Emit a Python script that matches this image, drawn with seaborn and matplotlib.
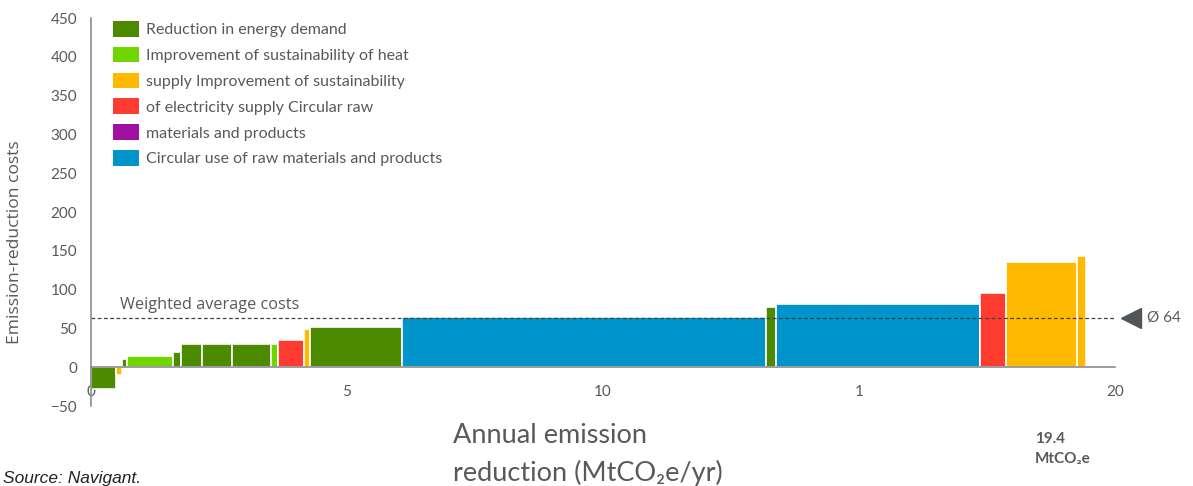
import numpy as np
import pandas as pd
import matplotlib
matplotlib.use("Agg")
import matplotlib.pyplot as plt
from matplotlib.patches import Patch
import seaborn as sns

# Measure categories and their colours
categories = [
    "Reduction in energy demand",
    "Improvement of sustainability of heat",
    "supply Improvement of sustainability",
    "of electricity supply Circular raw",
    "materials and products",
    "Circular use of raw materials and products",
]
category_colors = ["#4C8A00", "#6FD600", "#FFB900", "#FF3A2E", "#A0119F", "#0094CB"]

# Individual measures, sorted by cost (MAC curve)
measure_group = [0, 2, 0, 1, 0, 0, 0, 0, 1, 3, 2, 0, 5, 0, 5, 3, 2, 2]
measure_volume = [0.49, 0.11, 0.11, 0.90, 0.15, 0.40, 0.60, 0.76, 0.14,
                  0.50, 0.11, 1.80, 7.11, 0.19, 4.00, 0.50, 1.39, 0.17]
measure_cost = [-28, -10, 10, 15, 19, 30, 30, 30, 30,
                35, 49, 52, 65, 78, 82, 95, 135, 143]

x_ticks = [0, 5, 10, 15, 20]
x_tick_labels = ["0", "5", "10", "1", "20"]
y_ticks = [-50, 0, 50, 100, 150, 200, 250, 300, 350, 400, 450]

GREY_TEXT = "#595959"
GREY_AXIS = "#8C8C8C"

sns.set_style("white")
plt.rcParams["font.family"] = ["Lato", "DejaVu Sans"]

volume = np.array(measure_volume)
cost = np.array(measure_cost, dtype=float)
edges = np.concatenate([[0.0], np.cumsum(volume)])
df = pd.DataFrame({
    "mid": edges[:-1] + volume / 2,
    "cost": cost,
    "group": [categories[g] for g in measure_group],
})
total = volume.sum()
avg_cost = float((volume * cost).sum() / total)

fig = plt.figure(figsize=(11.93, 4.86), dpi=100)
ax = fig.add_axes([91 / 1193, 80 / 486, 1024 / 1193, 388 / 486])

# Variable-width bars: one bin per measure, height = cost
sns.histplot(data=df, x="mid", weights="cost", bins=edges.tolist(), ax=ax,
             color=category_colors[0], alpha=1, edgecolor="white",
             linewidth=1.2, legend=False, zorder=2)
for patch, g in zip(ax.patches, measure_group):
    patch.set_facecolor(category_colors[g])

ax.set_xlim(0, 20)
ax.set_ylim(-50, 450)
ax.set_xlabel("")
ax.set_ylabel("")

for side in ["top", "right"]:
    ax.spines[side].set_visible(False)
ax.spines["bottom"].set_position(("data", 0))
for side in ["left", "bottom"]:
    ax.spines[side].set_color(GREY_AXIS)
    ax.spines[side].set_linewidth(1.2)
    ax.spines[side].set_zorder(4)

ax.set_xticks(x_ticks)
ax.set_xticklabels(x_tick_labels)
ax.set_yticks(y_ticks)
ax.tick_params(axis="both", direction="out", length=6, width=1.2,
               color=GREY_AXIS, labelcolor=GREY_TEXT, labelsize=11)
ax.tick_params(axis="x", pad=6.5)
ax.tick_params(axis="y", pad=4)

# Weighted average line and marker
ax.axhline(avg_cost, color="#404040", lw=0.9, ls=(0, (3, 2)), zorder=3)
ax.text(0.57, avg_cost + 6, "Weighted average costs", family=["Open Sans", "DejaVu Sans"],
        fontsize=11.7, color=GREY_TEXT, va="bottom", ha="left")
ax.plot([20.32], [avg_cost], marker="<", ms=14, color="#50555A", clip_on=False)
ax.text(20.62, avg_cost, f"Ø {avg_cost:.0f}", fontsize=11, color=GREY_TEXT,
        va="center", ha="left")

# Legend
handles = [Patch(facecolor=c, edgecolor="none") for c in category_colors]
fig.legend(handles, categories, loc="upper left",
           bbox_to_anchor=(113 / 1193, 1 - 21 / 486), bbox_transform=fig.transFigure,
           frameon=False, fontsize=11.5, handlelength=1.63, handleheight=1.13,
           labelspacing=0.6, handletextpad=0.44, borderpad=0, borderaxespad=0,
           labelcolor=GREY_TEXT)

# Axis titles and notes
fig.text(15 / 1193, 1 - 242 / 486, "Emission-reduction costs", rotation=90,
         ha="center", va="center", fontsize=12.6, color=GREY_TEXT,
         family=["Open Sans", "DejaVu Sans"])
fig.text(453 / 1193, 1 - 443 / 486, "Annual emission", fontsize=19.5,
         color=GREY_TEXT, ha="left", va="baseline")
fig.text(453 / 1193, 1 - 481 / 486, "reduction (MtCO₂e/yr)", fontsize=19.5,
         color=GREY_TEXT, ha="left", va="baseline", family=["Lato", "DejaVu Sans"])
fig.text(1035 / 1193, 1 - 443 / 486, f"{total:.1f}", fontsize=11, fontweight="bold",
         color=GREY_TEXT, ha="left", va="baseline")
fig.text(1035 / 1193, 1 - 463 / 486, "MtCO₂e", fontsize=11, fontweight="bold",
         color=GREY_TEXT, ha="left", va="baseline", family=["Lato", "DejaVu Sans"])
fig.text(3 / 1193, 1 - 483 / 486, "Source: Navigant.", fontsize=12.5, style="italic",
         color="#222222", ha="left", va="baseline",
         family=["Liberation Sans Narrow", "Liberation Sans"])

fig.savefig("out.png", dpi=100)
